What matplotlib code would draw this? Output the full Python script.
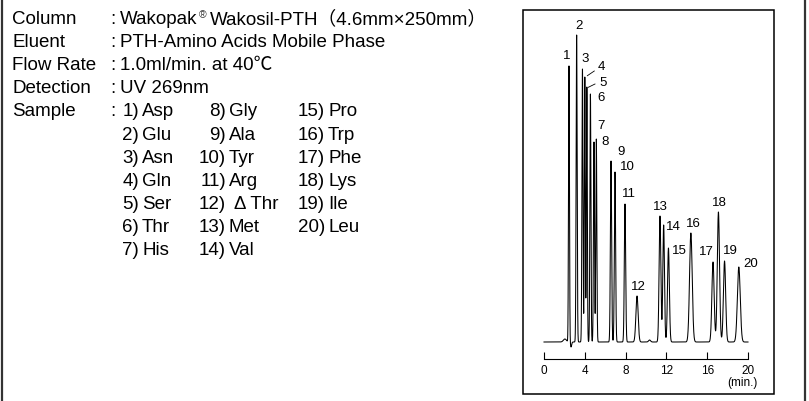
import numpy as np
import matplotlib
matplotlib.use("Agg")
import matplotlib.pyplot as plt
from matplotlib.lines import Line2D
from matplotlib.patches import Rectangle

plt.rcParams['font.family'] = ['Liberation Sans', 'Noto Sans CJK JP', 'DejaVu Sans']

# conditions text
cond_labels = ["Column", "Eluent", "Flow Rate", "Detection", "Sample"]
cond_values = ["Wakopak", "PTH-Amino Acids Mobile Phase", "1.0ml/min. at 40℃", "UV 269nm"]
column_tail = "Wakosil-PTH（4.6mm×250mm）"

# sample list (peak number -> amino acid)
peak_no = list(range(1, 21))
amino = ["Asp", "Glu", "Asn", "Gln", "Ser", "Thr", "His",
         "Gly", "Ala", "Tyr", "Arg", "Δ Thr", "Met", "Val",
         "Pro", "Trp", "Phe", "Lys", "Ile", "Leu"]

# peaks: retention time (min), height, width (sigma, min)
rt = [2.45, 3.20, 3.77, 4.00, 4.20, 4.55, 4.90, 5.13, 6.57, 6.96,
      7.94, 9.12, 11.37, 11.73, 12.20, 14.40, 16.57, 17.10, 17.70, 19.10]
height = [276, 307, 273, 265, 255, 248, 200, 203, 181, 170,
          138, 46, 126, 117, 94, 109, 80, 130, 81, 75]
sigma = [0.045, 0.05, 0.05, 0.045, 0.045, 0.05, 0.05, 0.05, 0.06, 0.06,
         0.065, 0.11, 0.085, 0.08, 0.09, 0.13, 0.11, 0.11, 0.11, 0.14]
# small baseline features (system dip, bumps)
minor_rt = [2.65, 2.05, 10.35]
minor_h = [-5, 3, 2]
minor_sigma = [0.06, 0.15, 0.1]

W, H = 809, 401
fig = plt.figure(figsize=(W / 100, H / 100), dpi=100)
renderer = fig.canvas.get_renderer()


def ftext(x, y, s, **kw):
    kw.setdefault('va', 'baseline')
    return fig.text(x / W, 1 - y / H, s, **kw)


def text_right(t):
    return t.get_window_extent(renderer).x1


fs = 13.5
row_y = [24.3 + 23.05 * i for i in range(11)]   # baselines in px
for i, lab in enumerate(cond_labels):
    ftext(12, row_y[i], lab, fontsize=fs)
    ftext(110, row_y[i], ":", fontsize=fs)

t0 = ftext(120, row_y[0], cond_values[0], fontsize=fs)
xr = text_right(t0)
t1 = ftext(xr + 1, row_y[0] - 6, "®", fontsize=7.5, color='#333333')
xr = text_right(t1)
ftext(xr + 4, row_y[0], column_tail, fontsize=fs)
for i in range(1, 4):
    ftext(120, row_y[i], cond_values[i], fontsize=fs)

col_x = [139, 226, 325]
for k, (n, name) in enumerate(zip(peak_no, amino)):
    c, rrow = divmod(k, 7)
    y = row_y[4 + rrow]
    ftext(col_x[c], y, f"{n})", fontsize=fs, ha='right')
    gap = 8 if name.startswith("Δ") else 3
    ftext(col_x[c] + gap, y, name, fontsize=fs, ha='left')

# outer frame (vertical edges)
fig.add_artist(Line2D([1.5 / W, 1.5 / W], [0, 1], color='#333333', lw=1.6))
fig.add_artist(Line2D([805 / W, 805 / W], [0, 1], color='#333333', lw=1.6))

# chromatogram panel
px_per_min = 10.2
x0px, x1px, y0px, y1px = 523, 774, 10, 394
base_px = 342
ax = fig.add_axes([x0px / W, 1 - y1px / H, (x1px - x0px) / W, (y1px - y0px) / H])
ax.set_xlim((x0px - 544) / px_per_min, (x1px - 544) / px_per_min)
ax.set_ylim(-(y1px - base_px), base_px - y0px)
ax.add_patch(Rectangle((0, 0), 1, 1, transform=ax.transAxes, fill=False,
                       lw=1.1, ec='black', clip_on=False))

t = np.linspace(0, 20, 6000)
sig = np.zeros_like(t)
for m, h, s in zip(rt + minor_rt, height + minor_h, sigma + minor_sigma):
    sig += h * np.exp(-0.5 * ((t - m) / s) ** 2)
ax.plot(t, sig, color='black', lw=0.75)

for side in ['top', 'left', 'right']:
    ax.spines[side].set_visible(False)
ax.spines['bottom'].set_position(('data', -17))
ax.spines['bottom'].set_bounds(0, 20)
ax.spines['bottom'].set_linewidth(0.8)
ax.set_xticks(range(0, 21, 4))
ax.tick_params(axis='x', direction='in', length=5, width=0.8, labelsize=8.5, pad=4)
ax.set_yticks([])
ax.text(20.9, -41, "(min.)", ha='right', va='center', fontsize=8.5)

# peak number labels (offsets from apex)
lab_dx = [-0.2, 0.2, 0.25, 1.59, 1.59, 1.04, 0.69, 0.85, 0.95, 1.18,
          0.39, 0.1, 0.0, 0.92, 1.04, 0.2, -0.69, 0.06, 0.54, 1.19]
lab_dy = [10, 9, 10, 10, 4, -4, 16, -3, 9, 5,
          10, 9, 9, -2, -3, 9, 10, 9, 10, 3]
for n, m, h, dx, dy in zip(peak_no, rt, height, lab_dx, lab_dy):
    ax.text(m + dx, h + dy, str(n), ha='center', va='center', fontsize=9.5)
# leader lines for 4 and 5
ax.plot([4.25, 4.93], [266.3, 271], color='black', lw=0.6)
ax.plot([4.34, 5.0], [254.7, 258], color='black', lw=0.6)

fig.savefig("out.png", dpi=100)
